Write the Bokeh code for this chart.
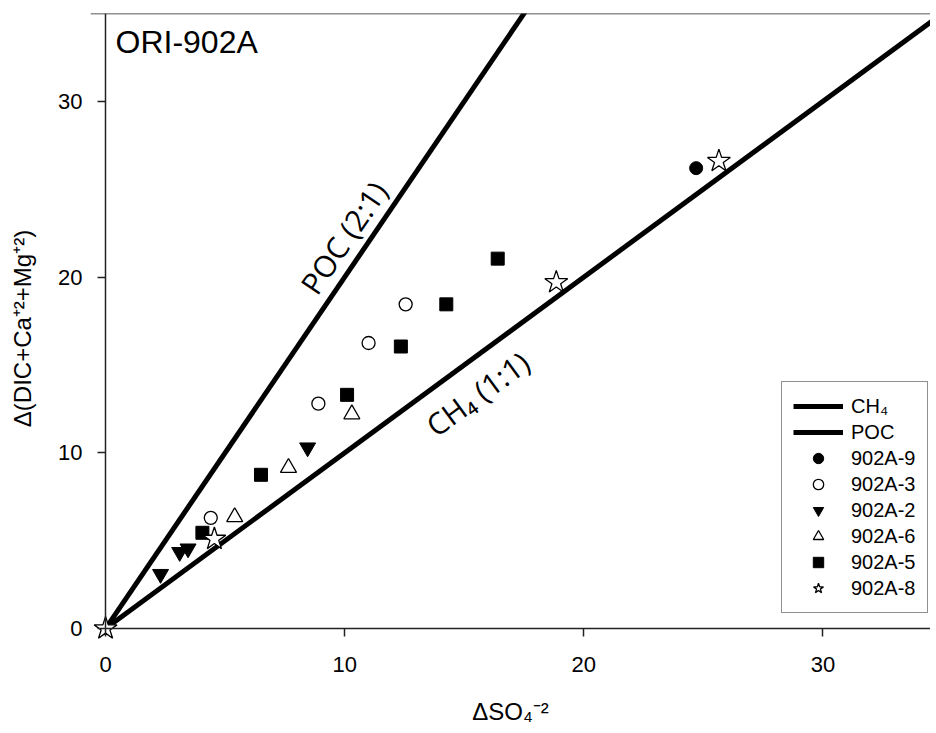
import math
from bokeh.plotting import figure
from bokeh.models import Range1d, Label, Legend, LegendItem, Span, FixedTicker, LinearAxis
from bokeh.embed import file_html
from bokeh.resources import INLINE

# ---------------- data ----------------
s9_x = [24.7]
s9_y = [26.2]
s3_x = [4.4, 8.9, 11.0, 12.55]
s3_y = [6.3, 12.8, 16.25, 18.45]
s2_x = [2.3, 3.1, 3.45, 8.45]
s2_y = [3.1, 4.35, 4.55, 10.3]
s6_x = [5.4, 7.65, 10.3]
s6_y = [6.35, 9.15, 12.2]
s5_x = [4.05, 6.5, 10.1, 12.35, 14.25, 16.4]
s5_y = [5.45, 8.75, 13.3, 16.05, 18.45, 21.05]
s8_x = [0.0, 4.55, 18.85, 25.65]
s8_y = [0.0, 5.1, 19.7, 26.6]

line_x = [0, 36]
ch4_ratio = 1.0   # CH4 (1:1)
poc_ratio = 2.0   # POC (2:1)

x_ticks = [0, 10, 20, 30]
y_ticks = [0, 10, 20, 30]

# ---------------- figure ----------------
W, H = 930, 730
ML, MR, MT, MB = 90, 0, 13, 87
XMIN, XMAX = -0.63, 34.5
YMIN, YMAX = -0.85, 35

p = figure(width=W, height=H, x_range=Range1d(XMIN, XMAX), y_range=Range1d(YMIN, YMAX),
           output_backend="svg", toolbar_location=None,
           min_border_left=ML, min_border_right=MR, min_border_top=MT, min_border_bottom=MB)
p.grid.visible = False
p.outline_line_color = None
p.background_fill_color = "white"
p.border_fill_color = "white"

# label-only axes at the frame edges
for ax in (p.xaxis[0], p.yaxis[0]):
    ax.axis_line_color = None
    ax.major_tick_line_color = None
    ax.minor_tick_line_color = None
    ax.major_tick_out = 0
    ax.major_tick_in = 0
    ax.minor_tick_out = 0
    ax.minor_tick_in = 0
    ax.major_label_text_font = "Liberation Sans"
    ax.major_label_text_font_size = "22px"
    ax.major_label_text_color = "black"
    ax.axis_label_text_font = "Liberation Sans"
    ax.axis_label_text_font_size = "24px"
    ax.axis_label_text_font_style = "normal"
    ax.axis_label_text_color = "black"
p.xaxis[0].ticker = FixedTicker(ticks=x_ticks)
p.yaxis[0].ticker = FixedTicker(ticks=y_ticks)
p.xaxis[0].major_label_standoff = 13
p.yaxis[0].major_label_standoff = 8
p.xaxis[0].axis_label = "\u0394SO\u2084\u207b\u00b2"
p.yaxis[0].axis_label = "\u0394(DIC+Ca\u207a\u00b2+Mg\u207a\u00b2)"
p.xaxis[0].axis_label_standoff = 23
p.yaxis[0].axis_label_standoff = 19

# axis lines and ticks drawn at the data origin
xfix = LinearAxis(fixed_location=0, bounds=(0, XMAX), ticker=FixedTicker(ticks=x_ticks))
yfix = LinearAxis(fixed_location=0, bounds=(0, YMAX), ticker=FixedTicker(ticks=y_ticks))
for ax in (xfix, yfix):
    ax.axis_line_width = 1.5
    ax.axis_line_color = "#222222"
    ax.major_tick_line_width = 1.5
    ax.major_tick_line_color = "#222222"
    ax.major_tick_in = 8
    ax.major_tick_out = 0
    ax.minor_tick_in = 0
    ax.minor_tick_out = 0
    ax.major_label_text_font_size = "0px"
    ax.major_label_standoff = 0
    ax.major_label_overrides = {t: "" for t in x_ticks}
p.add_layout(xfix, "above")
p.add_layout(yfix, "right")

p.add_layout(Span(location=YMAX, dimension="width", line_color="#222222", line_width=1.5))

# reference lines
ch4_y = [ch4_ratio * v for v in line_x]
poc_y = [poc_ratio * v for v in line_x]
r_ch4 = p.line(line_x, ch4_y, line_color="black", line_width=5)
r_poc = p.line(line_x, poc_y, line_color="black", line_width=5)

# data series
r9 = p.scatter(s9_x, s9_y, marker="circle", size=13, fill_color="black", line_color="black")
r3 = p.scatter(s3_x, s3_y, marker="circle", size=13, fill_color="white", line_color="black", line_width=1.3)
r2 = p.scatter(s2_x, s2_y, marker="inverted_triangle", size=16, fill_color="black", line_color="black")
r6 = p.scatter(s6_x, s6_y, marker="triangle", size=16, fill_color="white", line_color="black", line_width=1.3)
r5 = p.scatter(s5_x, s5_y, marker="square", size=13, fill_color="black", line_color="black")
r8 = p.scatter(s8_x, s8_y, marker="star", size=24, fill_color="white", line_color="black", line_width=1.3)

# legend
legend = Legend(items=[
    LegendItem(label="CH\u2084", renderers=[r_ch4]),
    LegendItem(label="POC", renderers=[r_poc]),
    LegendItem(label="902A-9", renderers=[r9]),
    LegendItem(label="902A-3", renderers=[r3]),
    LegendItem(label="902A-2", renderers=[r2]),
    LegendItem(label="902A-6", renderers=[r6]),
    LegendItem(label="902A-5", renderers=[r5]),
    LegendItem(label="902A-8", renderers=[r8]),
], location=(691, 30))
legend.label_text_font = "Liberation Sans"
legend.label_text_font_size = "20px"
legend.label_text_color = "black"
legend.glyph_width = 50
legend.glyph_height = 26
legend.label_height = 20
legend.spacing = 0
legend.padding = 11
legend.margin = 0
legend.label_standoff = 8
legend.border_line_color = "#222222"
legend.border_line_width = 1.5
legend.background_fill_color = "white"
legend.background_fill_alpha = 1.0
p.add_layout(legend)

# panel title
p.add_layout(Label(x=25, y=602, x_units="screen", y_units="screen", text="ORI-902A",
                   text_font="Liberation Sans", text_font_size="32px",
                   text_baseline="alphabetic", text_align="left", text_color="black"))

# labels along the reference lines
fw = W - ML - MR
fh = H - MT - MB
sx = fw / (XMAX - XMIN)
sy = fh / (YMAX - YMIN)
ang_poc = math.atan2(poc_ratio * sy, sx)
ang_ch4 = math.atan2(ch4_ratio * sy, sx)
p.add_layout(Label(x=9.96, y=22.25, text="POC (2:1)", angle=ang_poc,
                   text_font="Open Sans", text_font_size="30px",
                   text_align="center", text_baseline="middle", text_color="black"))
p.add_layout(Label(x=15.56, y=13.37, text="CH\u2084 (1:1)", angle=ang_ch4,
                   text_font="Open Sans", text_font_size="30px",
                   text_align="center", text_baseline="middle", text_color="black"))

open("out.html", "w").write(file_html(p, INLINE))
